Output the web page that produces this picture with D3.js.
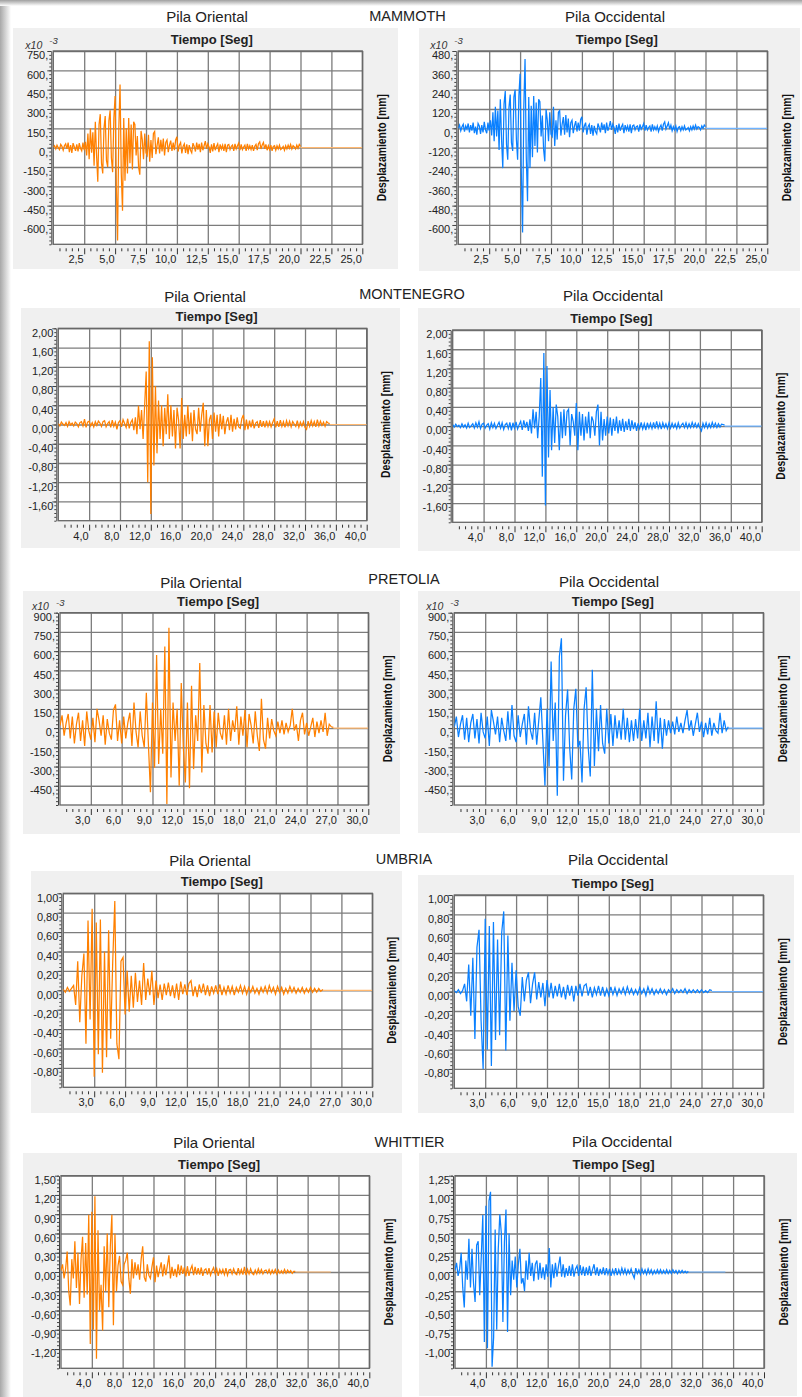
<!DOCTYPE html>
<html><head><meta charset="utf-8">
<script src="https://cdn.jsdelivr.net/npm/d3@7"></script>
<style>
html,body{margin:0;padding:0;background:#fff;}
svg{display:block;}
text{font-family:"Liberation Sans",Arial,sans-serif;}
</style></head><body>
<svg id="chart" width="802" height="1397"></svg>
<script>
// ---------------- DATA ----------------
const earthquakes = ["MAMMOTH", "MONTENEGRO", "PRETOLIA", "UMBRIA", "WHITTIER"];
const piers = ["Pila Oriental", "Pila Occidental"];
const xAxisTitle = "Tiempo [Seg]";
const yAxisTitle = "Desplazamiento [mm]";

// sampling interval of each record (s), time where the flat tail ends, axis end
const sampleStep = [0.1, 0.2, 0.2, 0.2, 0.2];
const tailEnd = [25, 40, 30, 30, 35];
const xMax = [25, 40, 30, 30, 40];

// x tick labels
const xTicksMammoth = [2.5, 5, 7.5, 10, 12.5, 15, 17.5, 20, 22.5, 25];
const xTicksMontenegro = [4, 8, 12, 16, 20, 24, 28, 32, 36, 40];
const xTicksPretolia = [3, 6, 9, 12, 15, 18, 21, 24, 27, 30];
const xTicksUmbria = [3, 6, 9, 12, 15, 18, 21, 24, 27, 30];
const xTicksWhittier = [4, 8, 12, 16, 20, 24, 28, 32, 36, 40];

// y tick labels
const yTicksMammothOr = [750, 600, 450, 300, 150, 0, -150, -300, -450, -600];
const yTicksMammothOc = [480, 360, 240, 120, 0, -120, -240, -360, -480, -600];
const yTicksMontenegro = [2, 1.6, 1.2, 0.8, 0.4, 0, -0.4, -0.8, -1.2, -1.6];
const yTicksPretolia = [900, 750, 600, 450, 300, 150, 0, -150, -300, -450];
const yTicksUmbria = [1, 0.8, 0.6, 0.4, 0.2, 0, -0.2, -0.4, -0.6, -0.8];
const yTicksWhittierOr = [1.5, 1.2, 0.9, 0.6, 0.3, 0, -0.3, -0.6, -0.9, -1.2];
const yTicksWhittierOc = [1.25, 1, 0.75, 0.5, 0.25, 0, -0.25, -0.5, -0.75, -1];

// displacement records (x10^-3 mm for Mammoth and Pretolia, mm otherwise), one row per second
const mammothOriental = [
 5,15,-10,20,0,-15,25,10,-20,15, 30,-10,40,-35,20,-40,35,5,-25,25,
 -30,35,-5,-25,40,-20,45,-60,110,-90, 150,-40,120,-140,200,-60,-265,180,260,-120,
 -200,150,245,-100,-150,210,290,-80,-190,230, 400,-300,-720,150,490,-200,-490,230,-257,150,
 -200,230,-120,180,-170,200,180,-60,90,-150, -210,130,60,-90,110,-40,-60,100,-110,60,
 -80,110,125,-50,20,80,-45,60,-30,70, -60,40,60,-35,20,55,-25,40,-20,60,
 85,-30,20,40,-45,10,30,-40,25,-50, 20,-20,-40,35,10,-30,40,-15,30,-35,
 40,-20,15,50,-10,30,5,-40,25,-30, 35,-20,10,30,-35,25,-10,20,-25,30,
 -35,20,25,-15,10,20,-25,30,-10,15, 35,-20,25,-15,5,20,-25,30,-10,15,
 -15,20,-25,10,25,-20,30,45,-10,20, 40,-10,25,-20,15,-15,20,-25,10,15,
 -20,15,-10,20,-15,-5,10,-20,15,-10, 20,-5,25,-10,15,5,-10,20,-5,25, 10];
const mammothOccidental = [
 0,20,-15,10,25,-20,15,-5,30,-25, 20,-15,35,-30,10,-40,30,15,-35,20,
 -25,40,-10,-30,35,-15,50,-45,100,-80, 134,-50,110,-134,180,-70,-247,150,232,-100,
 -195,130,210,-90,-140,195,240,-70,-195,200, 339,-280,-647,130,431,-180,-452,195,-247,140,
 -180,200,-110,160,-150,180,165,-50,80,-130, -205,120,50,-80,100,-35,-50,134,-110,50,
 -70,100,110,-45,25,70,-40,82,-25,60, -55,35,50,-30,15,45,-20,35,-15,55,
 72,-25,15,35,-40,10,25,-35,20,-45, 15,-20,-35,30,5,-25,35,-10,25,-30,
 35,-15,10,45,-10,25,5,-35,20,-25, 30,-15,10,25,-30,20,-10,15,-20,25,
 -30,15,20,-10,10,15,-20,25,-5,10, 30,-15,20,-10,5,15,-20,25,-10,10,
 -10,15,-20,5,20,-15,25,40,-5,15, 35,-5,20,-15,10,-10,15,-20,5,10,
 -15,10,-10,15,-10,-5,5,-15,10,-10, 15,-5,20,-5,10,5,-10,15,0,20, 10];
const montenegroOriental = [
 .02,-.03,.05,.01,-.02, .04,-.04,.06,-.01,.03, -.03,.05,.02,-.05,.04, .06,-.03,.11,-.06,.05,
 .07,-.03,.04,-.05,.06, -.02,.07,.03,-.04,.06, .08,-.05,.02,.06,-.06, .09,-.04,.05,-.1,.04,
 .08,-.05,.1,.02,-.06, .12,-.08,.04,.1,-.12, .15,-.2,.39,-.1,.3, -.3,.4,1.1,-1.2,1.73,
 -1.86,1.4,-.85,.8,-.6, .5,-.3,.4,-.45,.35, -.2,.63,-.3,.4,-.25, .3,-.5,.35,.1,-.5,
 .55,-.3,.2,-.25,.4, -.2,.25,-.35,.3,-.1, -.2,.35,-.15,.2,.45, -.45,.3,-.45,.1,.2,
 -.3,.25,-.15,.2,-.25, .22,-.1,.18,-.2,.05, .15,-.12,.2,-.15,.12, -.1,.15,-.05,-.08,.12,
 .2,-.12,.1,-.1,.08, -.06,.1,-.08,.03,.06, -.07,.09,-.05,.07,-.06, .08,-.04,.06,-.05,.04,
 .12,-.06,.07,-.05,.09, -.04,.06,-.06,.08,-.03, .07,-.05,.06,.01,-.04, .08,-.06,.05,-.03,.06,
 -.06,-.1,.07,-.04,.08, -.03,.06,-.05,.1,-.03, .07,-.02,.05,-.04,.06, .03,.02];
const montenegroOccidental = [
 .03,-.02,.04,-.01,.02, -.03,.05,-.02,.03,-.04, .06,-.03,.01,.05,-.04, .07,-.02,.09,-.05,.04,
 .06,-.04,.02,.05,-.06, .07,-.03,.06,-.05,.02, .08,-.04,.07,-.07,.03, .06,-.05,.08,-.09,.07,
 -.04,.09,-.06,.03,.1, -.08,.12,-.03,.09,-.1, .14,-.15,.35,-.05,.3, -.25,.2,1.0,-1.05,1.52,
 -1.65,1.25,-.65,.75,-.5, .4,-.35,.45,.2,-.5, .3,-.25,.35,-.2,.3, .35,-.4,.25,.1,-.2,
 .48,-.5,.3,-.2,.25, -.3,.2,-.15,.3,-.25, .2,.1,-.2,.3,.45, -.4,.3,-.3,.15,-.2,
 .2,-.15,.18,-.2,.15, -.1,.2,-.15,.12,-.1, .15,-.12,.1,-.08,.15, -.1,.12,-.06,.08,-.1,
 .06,-.05,.08,-.06,.05, -.08,.07,-.04,.06,-.05, .08,-.05,.1,-.04,.06, -.06,.07,-.03,.05,-.05,
 .07,-.04,.06,-.03,.05, -.05,.07,-.04,.02,.06, -.03,.07,-.04,.05,-.03, .08,-.02,.06,-.03,.05,
 -.04,-.1,.06,-.03,.07, -.04,.05,-.03,.08,-.02, .06,-.03,.05,-.02,.04, .03,.02];
const pretoliaOriental = [
 20,100,-60,40,110, -80,90,-120,30,120, -100,60,-140,130,-20, -90,80,-110,150,60,
 -60,100,-130,70,-40, -90,140,185,-100,60, -120,90,-80,40,120, -140,200,-30,-150,130,
 -60,-150,275,-120,-500, 200,-310,570,-280,150, -200,636,-592,783,-385, 200,-100,150,-450,352,
 -150,-424,200,-470,330, -320,100,-100,507,-347, 180,-120,-200,180,-190, 130,-150,120,-40,-90,
 100,-130,150,-100,60, -30,170,-130,90,-60, 140,-150,110,20,-120, 130,-60,-178,228,-90,
 -160,80,-80,70,-20, -60,50,-40,60,-50, 40,-30,20,150,-20, 30,-100,60,120,-50,
 40,-60,10,80,-70, 50,-40,60,-30,120, -60,30,10,5];
const pretoliaOccidental = [
 10,90,-70,30,100, -90,80,-110,40,110, -80,70,-120,120,-30, -80,90,-140,140,50,
 -50,90,-110,80,-20, -100,130,-90,180,-60, -110,100,-70,30,110, -130,170,-20,-90,120,
 -130,60,240,-100,-450, 150,-300,520,-100,200, -527,559,700,-411,100, 300,-150,-400,150,307,
 -150,-100,-424,150,318, -150,-377,455,-295,150, -180,180,-120,-200,150, -120,110,-140,100,-80,
 60,-90,150,-90,80, -110,60,-100,70,-80, 150,-100,60,-80,120, -150,90,-100,210,-120,
 80,-160,70,-60,60, -40,50,-50,90,-30, 40,-40,60,140,-20, 60,-60,30,120,-30,
 50,-70,40,-50,80, -60,40,-20,-40,120, -40,60,-20,10];
const umbriaOriental = [
 .01,-.02,.03,-.01,.02, .05,-.15,.3,-.33,.15, .38,-.55,.72,-.3,.84, -.89,.7,-.66,.73,-.85,
 .4,-.69,.62,-.5,.3, .92,-.55,-.71,.3,.34, -.25,.2,-.22,.15,-.18, .18,-.12,.1,-.15,.28,
 -.1,.12,-.05,.2,-.15, .1,-.08,.06,-.1,.07, -.05,.08,-.06,.05,-.08, .07,-.1,.09,-.04,.06,
 -.05,.07,.1,-.06,.04, -.07,.06,-.03,.07,-.05, .05,-.06,.04,-.03,.05, -.04,.06,-.05,.03,-.04,
 .05,-.03,.04,-.05,.03, -.02,.05,-.03,.04,-.04, .03,-.02,.04,-.03,.02, -.04,.03,-.02,.04,-.03,
 .05,-.02,.03,-.04,.04, -.02,.03,-.04,.02,-.03, .04,-.02,.03,-.03,.02, -.02,.03,-.03,.02,-.02,
 .03,-.02,.02,-.02,.02, -.01,.01];
const umbriaOccidental = [
 .01,-.01,.02,-.02,.01, .08,-.1,.28,-.25,.35, -.49,.46,.64,-.3,-.8, .755,-.6,.68,-.77,.72,
 -.5,.54,-.45,.61,.83, -.61,.58,-.3,.3,-.2, .22,-.15,-.25,.15,-.1, .12,.2,-.12,.08,.2,
 -.08,.1,-.06,.09,-.15, .12,-.06,.09,-.07,.06, -.05,.08,-.06,.05,-.08, .07,-.04,.06,-.1,.06,
 -.04,.08,-.05,.06,.08, -.04,.05,-.06,.04,-.03, .06,-.04,.05,-.05,.03, -.04,.05,-.03,.04,-.04,
 .03,-.02,.04,-.03,.05, -.02,.03,-.03,.02,-.03, .04,-.02,.03,-.04,.05, -.02,.03,-.03,.02,-.02,
 .03,-.02,.02,-.03,.02, -.01,.03,-.02,.02,-.01, .02,-.01,.03,-.02,.02, -.01,.02,-.01,.02,-.01,
 .02,-.01,.01,-.01,.02, .01];
const whittierOriental = [
 .02,.12,-.1,.05,.32, -.29,-.52,.2,-.1,.48, -.25,.3,-.5,.2,.55, -.4,.45,-.35,.89,-1.12,
 .94,-.9,1.18,-1.35,.65, -.6,-.2,-.91,.4,-.3, .6,-.55,.4,.89,-.83, .6,-.3,.1,.25,-.15,
 -.2,.12,.18,.3,-.1, -.34,.2,-.1,.15,-.05, .12,-.12,.2,.4,-.08, -.15,.12,-.05,-.1,.08,
 .23,-.16,.1,-.08,.04, .15,-.07,.12,-.05,.1, .26,-.1,.08,-.06,.05, -.08,.12,-.05,.1,-.03,
 .07,-.07,.09,-.06,.04, .1,-.05,.08,-.04,.06, -.04,.07,-.06,.03,.05, -.04,.06,-.05,.02,.07,
 -.03,.05,-.06,.04,-.02, .04,-.04,.06,-.05,.03, .04,-.03,.05,-.02,-.04, .06,-.03,.04,-.04,.08,
 -.05,.04,-.03,.05,-.02, -.04,.03,-.03,.05,-.02, .04,-.03,.02,.03,-.02, .04,-.03,.03,-.02,.04,
 -.03,.03,-.02,.02,-.02, .04,-.02,.03,-.01,.02, -.02,.01,.01];
const whittierOccidental = [
 .02,.12,-.05,.04,.25, -.2,-.46,.15,-.1,.43, -.2,.3,-.15,-.39,.35, .4,-.3,.2,.74,-.91,
 .86,-.99,.92,1.04,-1.23, -.85,.55,-.75,.3,.75, .5,-.65,.4,.81,-.78, .5,-.3,.15,-.1,.2,
 -.2,.1,.3,-.15,-.08, -.25,.15,-.1,.25,-.05, .12,-.12,.1,.15,-.1, .12,-.08,.06,-.1,.1,
 -.06,.31,-.2,.1,-.08, .12,-.06,.08,.2,-.06, .1,-.07,.05,-.05,.08, -.05,.1,-.06,.04,.08,
 -.05,.09,-.04,.07,-.05, .06,-.04,.08,-.05,.03, .1,-.04,.06,-.05,.04, -.03,.06,-.04,.05,-.03,
 .04,-.05,.03,-.03,.05, -.04,.03,-.03,.05,-.02, .04,-.03,.03,-.02,.04, -.03,-.08,.05,-.02,.03,
 -.03,.04,-.02,.03,-.03, .04,-.02,.03,-.03,.02, -.02,.03,-.02,.03,-.02, .02,-.02,.03,-.02,.02,
 -.02,.03,-.01,.02,-.02, .02,-.01,.02,-.01,.01, -.01,.01];

// ---------------- PANEL DEFINITIONS ----------------
const panels = [
 {q:0, pier:0, values:mammothOriental, xTicks:xTicksMammoth, yDomain:[-750,750], yTicks:yTicksMammothOr, milli:true},
 {q:0, pier:1, values:mammothOccidental, xTicks:xTicksMammoth, yDomain:[-720,480], yTicks:yTicksMammothOc, milli:true},
 {q:1, pier:0, values:montenegroOriental, xTicks:xTicksMontenegro, yDomain:[-2,2], yTicks:yTicksMontenegro},
 {q:1, pier:1, values:montenegroOccidental, xTicks:xTicksMontenegro, yDomain:[-2,2], yTicks:yTicksMontenegro},
 {q:2, pier:0, values:pretoliaOriental, xTicks:xTicksPretolia, yDomain:[-600,900], yTicks:yTicksPretolia, milli:true},
 {q:2, pier:1, values:pretoliaOccidental, xTicks:xTicksPretolia, yDomain:[-600,900], yTicks:yTicksPretolia, milli:true},
 {q:3, pier:0, values:umbriaOriental, xTicks:xTicksUmbria, yDomain:[-1,1], yTicks:yTicksUmbria},
 {q:3, pier:1, values:umbriaOccidental, xTicks:xTicksUmbria, yDomain:[-1,1], yTicks:yTicksUmbria},
 {q:4, pier:0, values:whittierOriental, xTicks:xTicksWhittier, yDomain:[-1.5,1.5], yTicks:yTicksWhittierOr},
 {q:4, pier:1, values:whittierOccidental, xTicks:xTicksWhittier, yDomain:[-1.25,1.25], yTicks:yTicksWhittierOc}
];

// ---------------- LAYOUT ----------------
const layout = [
 {box:[13,28,398,269],   plot:[53.3,51,362.3,244.3],     title:[207,21.5]},
 {box:[419,28,800,271],  plot:[458.3,51,767.3,244.3],    title:[615,21.5]},
 {box:[21,308,400,548],  plot:[58.3,328.3,366.7,520.7],  title:[205,301.5]},
 {box:[418,308,800,551], plot:[452.7,330,761.7,522.3],   title:[613,301]},
 {box:[23,591,400,834],  plot:[60,612.7,368.3,805],      title:[201,588]},
 {box:[418,591,800,833], plot:[454.3,612.7,763.3,805],   title:[609,587]},
 {box:[31,871,402,1113], plot:[63.3,893.3,372.3,1087.3], title:[210,866]},
 {box:[418,875,794,1113],plot:[454.3,895,763.3,1088.3],  title:[618,865]},
 {box:[23,1153,402,1397],plot:[61,1175.7,369.3,1368.3],  title:[214,1148]},
 {box:[419,1153,797,1396],plot:[455,1175.7,764,1368.3],  title:[622,1147]}
];
const quakeLabelPos = [[407.5,20.5],[412,298.5],[404,583.5],[404,864],[409.5,1147]];
const lineColor = ["#ff8000", "#0a80ff"];
const tailColor = ["#ffb870", "#6fb3ff"];

const svg = d3.select("#chart");
const defs = svg.append("defs");

// page shadow (left and top edges)
const gL = defs.append("linearGradient").attr("id","shL").attr("x1",0).attr("x2",1).attr("y1",0).attr("y2",0);
gL.append("stop").attr("offset",0).attr("stop-color","#a8a8a8");
gL.append("stop").attr("offset",1).attr("stop-color","#ffffff");
const gT = defs.append("linearGradient").attr("id","shT").attr("x1",0).attr("x2",0).attr("y1",0).attr("y2",1);
gT.append("stop").attr("offset",0).attr("stop-color","#a0a0a0");
gT.append("stop").attr("offset",1).attr("stop-color","#ffffff");
svg.append("rect").attr("x",0).attr("y",0).attr("width",11).attr("height",1397).attr("fill","url(#shL)");
svg.append("rect").attr("x",0).attr("y",0).attr("width",802).attr("height",6).attr("fill","url(#shT)");

const fmtX = d => d.toFixed(1).replace(".", ",");
const fmtYMilli = d => d + ",";
const fmtY = d => d.toFixed(2).replace(".", ",");

function drawPanel(p, L, idx) {
  const g = svg.append("g");
  const [bx0, by0, bx1, by1] = L.box;
  const [pl, pt, pr, pb] = L.plot;
  const dt = sampleStep[p.q];
  g.append("rect").attr("x",bx0).attr("y",by0).attr("width",bx1-bx0).attr("height",by1-by0).attr("fill","#f0f0f0");

  g.append("text").attr("x",L.title[0]).attr("y",L.title[1]).attr("text-anchor","middle")
    .attr("font-size",15).attr("fill","#222").text(piers[p.pier]);

  const x = d3.scaleLinear().domain([0, xMax[p.q]]).range([pl, pr]);
  const y = d3.scaleLinear().domain(p.yDomain).range([pb, pt]);

  g.append("rect").attr("x",pl).attr("y",pt).attr("width",pr-pl).attr("height",pb-pt).attr("fill","#fff");

  // grid
  const gx = g.append("g").attr("transform",`translate(0,${pb})`)
    .call(d3.axisBottom(x).tickValues(p.xTicks).tickSize(-(pb-pt)).tickFormat(""));
  gx.select(".domain").remove();
  gx.selectAll("line").attr("stroke","#7c7c7c").attr("stroke-width",1.3);
  const gy = g.append("g").attr("transform",`translate(${pl},0)`)
    .call(d3.axisLeft(y).tickValues(p.yTicks).tickSize(-(pr-pl)).tickFormat(""));
  gy.select(".domain").remove();
  gy.selectAll("line").attr("stroke","#7c7c7c").attr("stroke-width",1.3);
  g.append("rect").attr("x",pl).attr("y",pt).attr("width",pr-pl).attr("height",pb-pt)
    .attr("fill","none").attr("stroke","#666").attr("stroke-width",1.3);

  // series
  const cid = "clip" + idx;
  defs.append("clipPath").attr("id",cid).append("rect").attr("x",pl).attr("y",pt).attr("width",pr-pl).attr("height",pb-pt);
  const pts = p.values.map((v,i) => ({t: i*dt, v: v}));
  const tEnd = (p.values.length-1)*dt;
  const line = d3.line().x(d => x(d.t)).y(d => y(d.v));
  g.append("path").datum([{t:tEnd, v:0}, {t:tailEnd[p.q], v:0}]).attr("d", line)
    .attr("fill","none").attr("stroke",tailColor[p.pier]).attr("stroke-width",1.2).attr("clip-path",`url(#${cid})`);
  g.append("path").datum(pts).attr("d", line)
    .attr("fill","none").attr("stroke",lineColor[p.pier]).attr("stroke-width",1.25).attr("stroke-linejoin","miter")
    .attr("clip-path",`url(#${cid})`);

  // x axis (ticks below plot)
  const xm = p.xTicks[0] / 5;
  const minorX = d3.range(xm, xMax[p.q] + 1e-9, xm).filter(v => !p.xTicks.some(t => Math.abs(t - v) < 1e-6));
  const ax2 = g.append("g").attr("transform",`translate(0,${pb+4})`)
    .call(d3.axisBottom(x).tickValues(minorX).tickSize(3).tickFormat(""));
  ax2.select(".domain").remove();
  ax2.selectAll("line").attr("stroke","#333");
  const ax = g.append("g").attr("transform",`translate(0,${pb+4})`)
    .call(d3.axisBottom(x).tickValues(p.xTicks).tickSize(6).tickFormat(fmtX));
  ax.select(".domain").remove();
  ax.selectAll("line").attr("stroke","#333");
  ax.selectAll("text").attr("text-anchor","end").attr("x",-1).attr("y",15).attr("dy",0)
    .attr("font-size",11).attr("fill","#222").attr("font-family","Liberation Sans, Arial, sans-serif");

  // y axis
  const yStep = Math.abs(p.yTicks[0] - p.yTicks[1]);
  const minorY = d3.range(p.yDomain[0], p.yDomain[1] + 1e-9, yStep/5);
  const ay2 = g.append("g").attr("transform",`translate(${pl-2},0)`)
    .call(d3.axisLeft(y).tickValues(minorY).tickSize(2).tickSizeOuter(0).tickFormat(""));
  ay2.select(".domain").attr("stroke","#444");
  ay2.selectAll("line").attr("stroke","#444");
  const ay = g.append("g").attr("transform",`translate(${pl-2},0)`)
    .call(d3.axisLeft(y).tickValues(p.yTicks).tickSize(4).tickSizeOuter(0).tickFormat(p.milli ? fmtYMilli : fmtY));
  ay.select(".domain").remove();
  ay.selectAll("line").attr("stroke","#444");
  ay.selectAll("text").attr("text-anchor","end").attr("x",-3).attr("dy",7.8)
    .attr("font-size",11).attr("fill","#222").attr("font-family","Liberation Sans, Arial, sans-serif");

  if (p.milli) {
    const e = g.append("text").attr("x",pl-28).attr("y",pt-2.5).attr("font-size",10.5).attr("font-style","italic").attr("fill","#333");
    e.append("tspan").text("x10");
    e.append("tspan").attr("x",pl-4).attr("y",pt-7).attr("font-size",9.5).text("-3");
  }

  // axis titles
  g.append("text").attr("x",(pl+pr)/2+4).attr("y",pt-7).attr("text-anchor","middle")
    .attr("font-size",13).attr("font-weight","bold").attr("fill","#222").text(xAxisTitle);
  const cx = pr + 23.5, cy = (pt+pb)/2;
  g.append("text").attr("transform",`translate(${cx},${cy}) rotate(-90)`).attr("text-anchor","middle")
    .attr("font-size",13).attr("font-weight","bold").attr("fill","#111")
    .attr("textLength",107).attr("lengthAdjust","spacingAndGlyphs").text(yAxisTitle);
}

panels.forEach((p,i) => drawPanel(p, layout[i], i));

earthquakes.forEach((name,i) => {
  svg.append("text").attr("x",quakeLabelPos[i][0]).attr("y",quakeLabelPos[i][1]).attr("text-anchor","middle")
    .attr("font-size",14.5).attr("fill","#222").text(name);
});
</script>
</body></html>
